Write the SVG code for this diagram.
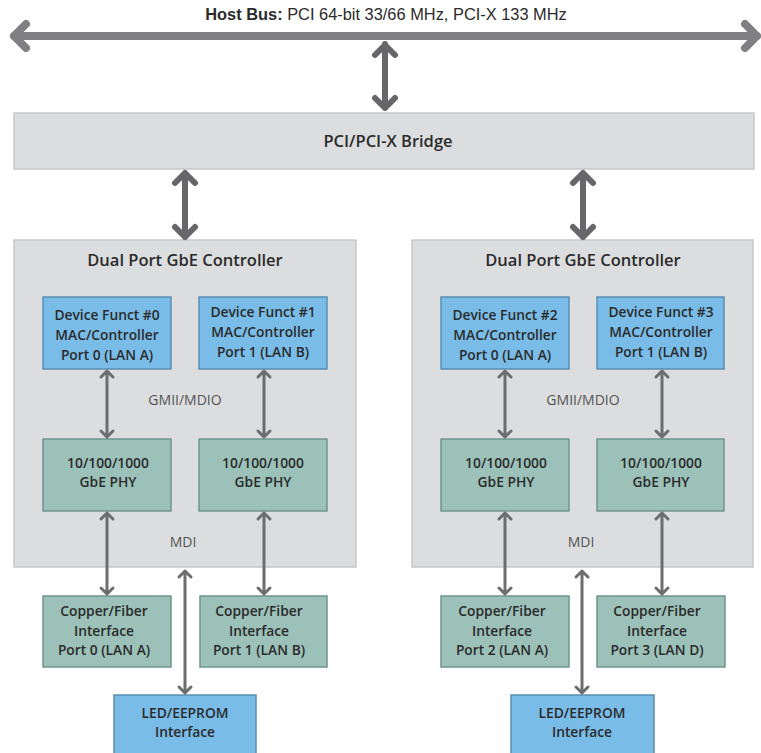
<svg xmlns="http://www.w3.org/2000/svg" width="761" height="753" viewBox="0 0 761 753">
<style>
.ctrl{fill:#dcdddf;stroke:#c6c7c9;stroke-width:1.5}
.blue{fill:#79bce8;stroke:#5a8db3;stroke-width:1.5}
.teal{fill:#9bc1b9;stroke:#6f958d;stroke-width:1.5}
.t{font-family:"Open Sans","Noto Sans",sans-serif;fill:#2b2b2b;text-anchor:middle}
.b{font-weight:600;font-size:13.8px}
.h{font-weight:600;font-size:16.5px}
.lbl{font-family:"Open Sans","Noto Sans",sans-serif;font-size:14px;fill:#555;text-anchor:middle}
.bus{stroke:#808083;stroke-width:8;fill:none;stroke-linecap:round;stroke-linejoin:round}
.big{stroke:#67676a;stroke-width:6;fill:none;stroke-linecap:round;stroke-linejoin:round}
.sm{stroke:#6d6d6f;stroke-width:3;fill:none;stroke-linecap:round;stroke-linejoin:round}
</style>
<text x="386" y="20" font-family="'Liberation Sans',Arial,sans-serif" font-size="16.4" fill="#2b2b2b" text-anchor="middle"><tspan font-weight="bold">Host Bus:</tspan> PCI 64-bit 33/66 MHz, PCI-X 133 MHz</text>
<g id="bridge">
<rect class="ctrl" x="14" y="113" width="740" height="56"/>
<text class="t h" x="388" y="147">PCI/PCI-X Bridge</text>
</g>
<g id="ctrlL">
<rect class="ctrl" x="14" y="240" width="342" height="327"/>
<text class="t h" x="185" y="266">Dual Port GbE Controller</text>
<text class="lbl" x="185" y="405">GMII/MDIO</text>
<text class="lbl" x="183" y="547">MDI</text>
</g>
<g id="ctrlR">
<rect class="ctrl" x="412" y="240" width="341" height="327"/>
<text class="t h" x="583" y="266">Dual Port GbE Controller</text>
<text class="lbl" x="583" y="405">GMII/MDIO</text>
<text class="lbl" x="581" y="547">MDI</text>
</g>
<g id="mac0"><rect class="blue" x="43" y="297" width="128" height="72"/>
<text class="t b" x="107" y="320">Device Funct #0</text><text class="t b" x="107" y="340">MAC/Controller</text><text class="t b" x="107" y="360">Port 0 (LAN A)</text></g>
<g id="mac1"><rect class="blue" x="199" y="297" width="128" height="72"/>
<text class="t b" x="263" y="317">Device Funct #1</text><text class="t b" x="263" y="337">MAC/Controller</text><text class="t b" x="263" y="357">Port 1 (LAN B)</text></g>
<g id="mac2"><rect class="blue" x="441" y="297" width="128" height="72"/>
<text class="t b" x="505" y="320">Device Funct #2</text><text class="t b" x="505" y="340">MAC/Controller</text><text class="t b" x="505" y="360">Port 0 (LAN A)</text></g>
<g id="mac3"><rect class="blue" x="597" y="297" width="127" height="72"/>
<text class="t b" x="661" y="317">Device Funct #3</text><text class="t b" x="661" y="337">MAC/Controller</text><text class="t b" x="661" y="357">Port 1 (LAN B)</text></g>
<g id="phy0"><rect class="teal" x="43" y="439" width="128" height="72"/>
<text class="t b" x="108" y="468">10/100/1000</text><text class="t b" x="108" y="487">GbE PHY</text></g>
<g id="phy1"><rect class="teal" x="199" y="439" width="128" height="72"/>
<text class="t b" x="263" y="468">10/100/1000</text><text class="t b" x="263" y="487">GbE PHY</text></g>
<g id="phy2"><rect class="teal" x="441" y="439" width="128" height="72"/>
<text class="t b" x="506" y="468">10/100/1000</text><text class="t b" x="506" y="487">GbE PHY</text></g>
<g id="phy3"><rect class="teal" x="597" y="439" width="127" height="72"/>
<text class="t b" x="661" y="468">10/100/1000</text><text class="t b" x="661" y="487">GbE PHY</text></g>
<g id="cu0"><rect class="teal" x="43" y="596" width="128" height="71"/>
<text class="t b" x="104" y="616">Copper/Fiber</text><text class="t b" x="104" y="636">Interface</text><text class="t b" x="104" y="655">Port 0 (LAN A)</text></g>
<g id="cu1"><rect class="teal" x="200" y="596" width="127" height="71"/>
<text class="t b" x="259" y="616">Copper/Fiber</text><text class="t b" x="259" y="636">Interface</text><text class="t b" x="259" y="655">Port 1 (LAN B)</text></g>
<g id="cu2"><rect class="teal" x="441" y="596" width="128" height="71"/>
<text class="t b" x="502" y="616">Copper/Fiber</text><text class="t b" x="502" y="636">Interface</text><text class="t b" x="502" y="655">Port 2 (LAN A)</text></g>
<g id="cu3"><rect class="teal" x="597" y="596" width="128" height="71"/>
<text class="t b" x="657" y="616">Copper/Fiber</text><text class="t b" x="657" y="636">Interface</text><text class="t b" x="657" y="655">Port 3 (LAN D)</text></g>
<g id="led0"><rect class="blue" x="114" y="695" width="142" height="62"/>
<text class="t b" x="185" y="718">LED/EEPROM</text><text class="t b" x="185" y="737">Interface</text></g>
<g id="led1"><rect class="blue" x="511" y="695" width="143" height="62"/>
<text class="t b" x="582" y="718">LED/EEPROM</text><text class="t b" x="582" y="737">Interface</text></g>
<g id="connectors">
<path class="bus" d="M14 36H757M26 24L14 36L26 48M745 24L757 36L745 48"/>
<path class="big" d="M385 44V108M375 55L385 45L395 55M375 98L385 108L395 98"/>
<path class="big" d="M185 173V237M175 183L185 173L195 183M175 227L185 237L195 227"/>
<path class="big" d="M583 173V237M573 183L583 173L593 183M573 227L583 237L593 227"/>
<path class="sm" d="M107 371V437M101 377L107 371L113 377M101 431L107 437L113 431"/>
<path class="sm" d="M264 371V437M258 377L264 371L270 377M258 431L264 437L270 431"/>
<path class="sm" d="M505 371V437M499 377L505 371L511 377M499 431L505 437L511 431"/>
<path class="sm" d="M662 371V437M656 377L662 371L668 377M656 431L662 437L668 431"/>
<path class="sm" d="M107 513V594M101 519L107 513L113 519M101 588L107 594L113 588"/>
<path class="sm" d="M264 513V594M258 519L264 513L270 519M258 588L264 594L270 588"/>
<path class="sm" d="M505 513V594M499 519L505 513L511 519M499 588L505 594L511 588"/>
<path class="sm" d="M662 513V594M656 519L662 513L668 519M656 588L662 594L668 588"/>
<path class="sm" d="M185 571V693M179 577L185 571L191 577M179 687L185 693L191 687"/>
<path class="sm" d="M582 571V693M576 577L582 571L588 577M576 687L582 693L588 687"/>
</g>
</svg>
